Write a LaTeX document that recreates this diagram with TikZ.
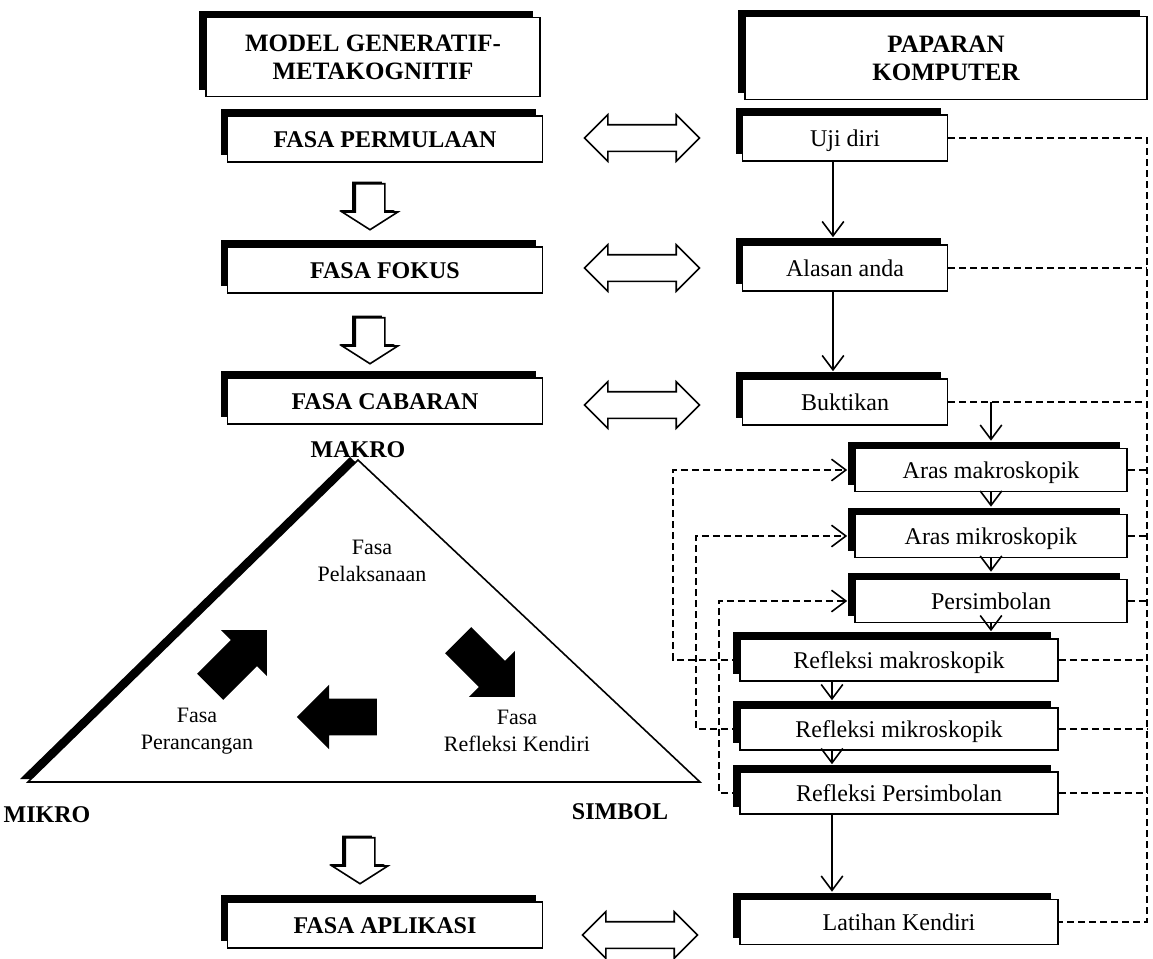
\documentclass[tikz,border=0pt]{standalone}
\usepackage{fontspec}
\setmainfont{Liberation Serif}
\usetikzlibrary{positioning}
\usetikzlibrary{arrows.meta}
\usetikzlibrary{shapes.arrows}
\usetikzlibrary{shadows}

\begin{document}
\begin{tikzpicture}[x=0.5pt, y=-0.5pt,
    >={Straight Barb[length=4pt,width=6pt]},
    blackshadow/.style={drop shadow={shadow xshift=-3.5pt, shadow yshift=3.5pt, opacity=1, fill=black}},
    shadowbox/.style={draw=black, fill=white, line width=0.8pt, blackshadow, align=center, inner sep=0pt, text height=8pt, text depth=0pt},
    headbox/.style={draw=black, fill=white, line width=0.8pt, blackshadow, align=center, inner sep=0pt, font=\fontsize{12.5}{14}\selectfont\bfseries},
    phasebox/.style={shadowbox, minimum width=157.5pt, minimum height=23pt, font=\fontsize{12}{14}\selectfont\bfseries},
    screenbox/.style={shadowbox, minimum height=23pt, font=\fontsize{12}{14}\selectfont},
    cornertext/.style={inner sep=1pt, font=\fontsize{12}{14}\selectfont\bfseries},
    fasatext/.style={align=center, inner sep=0pt, font=\fontsize{11}{13.5}\selectfont},
    downarrow/.style={draw=black, fill=white, line width=0.8pt, single arrow, shape border rotate=270, minimum height=23pt, single arrow head extend=6.5pt, single arrow tip angle=115, inner sep=7pt, drop shadow={shadow xshift=-1.5pt, shadow yshift=1pt, opacity=1, fill=black}},
    linkarrow/.style={draw=black, fill=white, line width=0.8pt, double arrow, minimum height=57.5pt, double arrow head extend=5pt, inner sep=6.25pt},
    fatarrow/.style={fill=black, single arrow, minimum height=40pt, single arrow head extend=7pt, inner sep=9pt},
    flowline/.style={line width=0.8pt},
    dashline/.style={line width=0.8pt, dash pattern=on 3.5pt off 2pt}]

    \useasboundingbox (0, 0) rectangle (1153, 959);

    % left column: the model
    \node (model) [headbox, minimum width=167pt, minimum height=39.5pt] at (373, 57) {MODEL GENERATIF-\\METAKOGNITIF};
    \node (permulaan) [phasebox] at (385, 139) {FASA PERMULAAN};
    \node (fokus) [phasebox] at (385, 270) {FASA FOKUS};
    \node (cabaran) [phasebox] at (385, 401) {FASA CABARAN};
    \node (aplikasi) [phasebox] at (385, 925) {FASA APLIKASI};

    \node (down1) [downarrow] at (370, 202) {};
    \node (down2) [downarrow] at (370, 336) {};
    \node (down3) [downarrow] at (360, 856) {};

    % triangle
    \coordinate (apex) at (358, 460);
    \coordinate (leftcorner) at (28, 782);
    \coordinate (rightcorner) at (700, 782);
    \draw [line width=0.8pt, fill=white, drop shadow={shadow xshift=-4pt, shadow yshift=1.5pt, opacity=1, fill=black}] (apex) -- (leftcorner) -- (rightcorner) -- cycle;

    \node (makrotext) [cornertext, above=0pt of apex] {MAKRO};
    \node (mikrotext) [cornertext] at (47, 815) {MIKRO};
    \node (simboltext) [cornertext] at (620, 812) {SIMBOL};

    \node (pelaksanaan) [fasatext] at (372, 561) {Fasa\\Pelaksanaan};
    \node (perancangan) [fasatext] at (197, 731) {Fasa\\Perancangan};
    \node (refleksi) [fasatext] at (517, 731) {Fasa\\Refleksi Kendiri};

    \node (turn1) [fatarrow, rotate=45] at (232, 665) {};
    \node (turn2) [fatarrow, rotate=-45] at (480, 662) {};
    \node (turn3) [fatarrow, rotate=180] at (346, 717) {};

    % links between the columns
    \node (link1) [linkarrow] at (642, 138) {};
    \node (link2) [linkarrow] at (642, 268) {};
    \node (link3) [linkarrow] at (642, 405) {};
    \node (link4) [linkarrow] at (640, 935) {};

    % right column: the computer display
    \node (paparan) [headbox, minimum width=201pt, minimum height=41.5pt] at (946, 58) {PAPARAN\\KOMPUTER};
    \node (ujidiri) [screenbox, minimum width=102.5pt] at (845, 138) {Uji diri};
    \node (alasan) [screenbox, minimum width=102.5pt] at (845, 268) {Alasan anda};
    \node (buktikan) [screenbox, minimum width=102.5pt] at (845, 402) {Buktikan};
    \node (arasmakro) [screenbox, minimum width=136pt, minimum height=21.5pt] at (991, 470) {Aras makroskopik};
    \node (arasmikro) [screenbox, minimum width=136pt, minimum height=21.5pt] at (991, 536) {Aras mikroskopik};
    \node (persimbolan) [screenbox, minimum width=136pt, minimum height=21.5pt] at (991, 601) {Persimbolan};
    \node (refmakro) [screenbox, minimum width=159pt, minimum height=21pt] at (899, 660) {Refleksi makroskopik};
    \node (refmikro) [screenbox, minimum width=159pt, minimum height=21pt] at (899, 729) {Refleksi mikroskopik};
    \node (refsimbol) [screenbox, minimum width=159pt, minimum height=21pt] at (899, 793) {Refleksi Persimbolan};
    \node (latihan) [screenbox, minimum width=159pt, minimum height=22.5pt] at (899, 922) {Latihan Kendiri};

    \coordinate (split) at (buktikan.east -| arasmakro.north);

    \path [-{>[scale=1.8]}, flowline, shorten >=3.5pt] ([xshift=-6pt]ujidiri.south) edge ([xshift=-6pt]alasan.north);
    \path [-{>[scale=1.8]}, flowline, shorten >=3.5pt] ([xshift=-6pt]alasan.south) edge ([xshift=-6pt]buktikan.north);
    \path [-{>[scale=1.8]}, flowline, shorten >=3.5pt] (split) edge (arasmakro.north);
    \path [-{>[scale=1.8]}, flowline, shorten >=3.5pt] (arasmakro.south) edge (arasmikro.north);
    \path [-{>[scale=1.8]}, flowline, shorten >=3.5pt] (arasmikro.south) edge (persimbolan.north);
    \path [-{>[scale=1.8]}, flowline, shorten >=3.5pt] (persimbolan.south) edge (persimbolan.south |- refmakro.north);
    \path [-{>[scale=1.8]}, flowline, shorten >=3.5pt] ([xshift=-33.5pt]refmakro.south) edge ([xshift=-33.5pt]refmikro.north);
    \path [-{>[scale=1.8]}, flowline, shorten >=3.5pt] ([xshift=-33.5pt]refmikro.south) edge ([xshift=-33.5pt]refsimbol.north);
    \path [-{>[scale=1.8]}, flowline, shorten >=3.5pt] ([xshift=-33.5pt]refsimbol.south) edge ([xshift=-33.5pt]latihan.north);

    % dashed returns
    \coordinate (loop1) at (673, 0);
    \coordinate (loop2) at (696, 0);
    \coordinate (loop3) at (719, 0);
    \draw [dashline, -{>[scale=1.8]}, shorten >=3.5pt] (refmakro.west) -- (refmakro.west -| loop1) |- (arasmakro.west);
    \draw [dashline, -{>[scale=1.8]}, shorten >=3.5pt] (refmikro.west) -- (refmikro.west -| loop2) |- (arasmikro.west);
    \draw [dashline, -{>[scale=1.8]}, shorten >=3.5pt] (refsimbol.west) -- (refsimbol.west -| loop3) |- (persimbolan.west);

    \coordinate (rail) at (1147, 0);
    \draw [dashline] (ujidiri.east) -- (ujidiri.east -| rail) -- (latihan.east -| rail) -- (latihan.east);
    \foreach \n in {alasan, buktikan, arasmakro, arasmikro, persimbolan, refmakro, refmikro, refsimbol}
        \draw [dashline] (\n.east) -- (\n.east -| rail);
\end{tikzpicture}
\end{document}
